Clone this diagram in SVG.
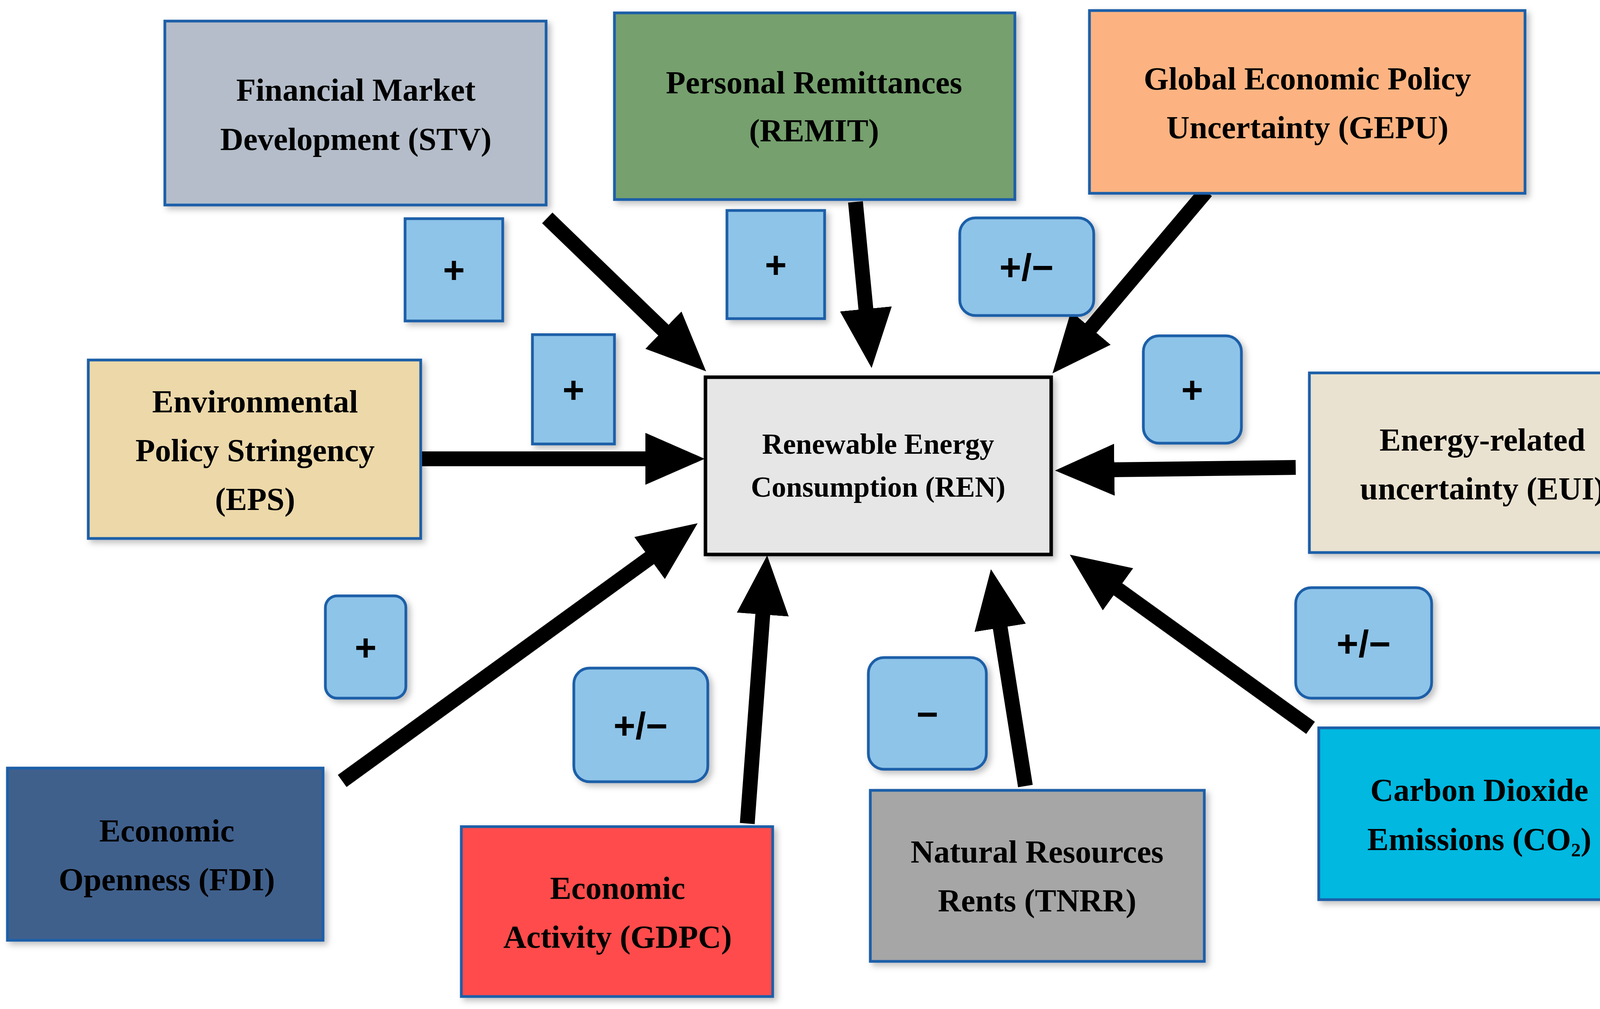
<svg xmlns="http://www.w3.org/2000/svg" width="4266" height="2584" viewBox="0 0 4266 2584">
<style>
.n{stroke:#1f5fa8;stroke-width:7}
.t{font-family:"Liberation Serif",serif;font-weight:bold;font-size:82px;text-anchor:middle;fill:#000}
.s{fill:#8ec4e8;stroke:#1f5fa8;stroke-width:7}
.st{font-family:"Liberation Sans",sans-serif;font-weight:bold;font-size:96px;text-anchor:middle;fill:#000}
.a{stroke:#000;stroke-width:38;fill:none;marker-end:url(#ah)}
</style>
<defs>
<marker id="ah" viewBox="0 0 4 3.5" markerWidth="4" markerHeight="3.5" refX="0.1" refY="1.75" orient="auto"><path d="M0,0 L4,1.75 L0,3.5z" fill="#000"/></marker>
<filter id="sh" x="-10%" y="-10%" width="130%" height="130%"><feDropShadow dx="8" dy="8" stdDeviation="8" flood-color="#000" flood-opacity="0.25"/></filter>
</defs>
<rect width="4266" height="2584" fill="#fff"/>
<g id="connectors">
<line class="a" x1="1401" y1="558" x2="1701" y2="848"/>
<line class="a" x1="2190" y1="517" x2="2217" y2="795"/>
<line class="a" x1="3088" y1="490" x2="2790" y2="843"/>
<line class="a" x1="1077" y1="1175" x2="1656" y2="1175"/>
<line class="a" x1="3317" y1="1197" x2="2849" y2="1203"/>
<line class="a" x1="876" y1="2000" x2="1666" y2="1427"/>
<line class="a" x1="1913" y1="2109" x2="1953" y2="1570"/>
<line class="a" x1="2625" y1="2013" x2="2560" y2="1604"/>
<line class="a" x1="3355" y1="1864" x2="2859" y2="1507"/>
</g>
<g id="REN" filter="url(#sh)"><rect x="1806" y="966" width="885" height="454" fill="#e6e6e6" stroke="#000" stroke-width="9"/>
<text class="t" font-size="74" x="2248" y="1162" style="font-size:74px">Renewable Energy</text><text class="t" x="2248" y="1272" style="font-size:74px">Consumption (REN)</text></g>
<g id="STV" filter="url(#sh)"><rect class="n" x="422" y="54" width="976" height="471" fill="#b4bdc9"/>
<text class="t" x="911" y="258">Financial Market</text><text class="t" x="911" y="384">Development (STV)</text></g>
<g id="REMIT" filter="url(#sh)"><rect class="n" x="1573" y="33" width="1025" height="478" fill="#76a06e"/>
<text class="t" x="2084" y="239">Personal Remittances</text><text class="t" x="2084" y="362">(REMIT)</text></g>
<g id="GEPU" filter="url(#sh)"><rect class="n" x="2789" y="27" width="1115" height="468" fill="#fdb381"/>
<text class="t" x="3347" y="229">Global Economic Policy</text><text class="t" x="3347" y="354">Uncertainty (GEPU)</text></g>
<g id="EPS" filter="url(#sh)"><rect class="n" x="226" y="922" width="851" height="457" fill="#ecd8a9"/>
<text class="t" x="653" y="1056">Environmental</text><text class="t" x="653" y="1181">Policy Stringency</text><text class="t" x="653" y="1306">(EPS)</text></g>
<g id="EUI" filter="url(#sh)"><rect class="n" x="3352" y="955" width="887" height="460" fill="#eae2d0"/>
<text class="t" x="3795" y="1154">Energy-related</text><text class="t" x="3795" y="1279">uncertainty (EUI)</text></g>
<g id="FDI" filter="url(#sh)"><rect class="n" x="19" y="1967" width="808" height="441" fill="#41608c"/>
<text class="t" x="427" y="2155">Economic</text><text class="t" x="427" y="2280">Openness (FDI)</text></g>
<g id="GDPC" filter="url(#sh)"><rect class="n" x="1181" y="2117" width="797" height="435" fill="#ff4b4b"/>
<text class="t" x="1581" y="2302">Economic</text><text class="t" x="1581" y="2427">Activity (GDPC)</text></g>
<g id="TNRR" filter="url(#sh)"><rect class="n" x="2228" y="2024" width="855" height="438" fill="#a6a6a6"/>
<text class="t" x="2655" y="2209">Natural Resources</text><text class="t" x="2655" y="2334">Rents (TNRR)</text></g>
<g id="CO2" filter="url(#sh)"><rect class="n" x="3376" y="1864" width="819" height="440" fill="#00b8e0"/>
<text class="t" x="3787" y="2051">Carbon Dioxide</text><text class="t" x="3787" y="2177">Emissions (CO₂)</text></g>
<g id="sign-STV" filter="url(#sh)"><rect class="s" x="1037" y="560" width="250" height="262"/><text class="st" x="1162" y="725">+</text></g>
<g id="sign-REMIT" filter="url(#sh)"><rect class="s" x="1861" y="539" width="250" height="277"/><text class="st" x="1986" y="712">+</text></g>
<g id="sign-GEPU" filter="url(#sh)"><rect class="s" x="2457" y="558" width="343" height="250" rx="40"/><text class="st" x="2628" y="718">+/−</text></g>
<g id="sign-EPS" filter="url(#sh)"><rect class="s" x="1363" y="857" width="210" height="280"/><text class="st" x="1468" y="1032">+</text></g>
<g id="sign-EUI" filter="url(#sh)"><rect class="s" x="2927" y="860" width="251" height="275" rx="40"/><text class="st" x="3052" y="1032">+</text></g>
<g id="sign-FDI" filter="url(#sh)"><rect class="s" x="833" y="1526" width="206" height="262" rx="30"/><text class="st" x="936" y="1692">+</text></g>
<g id="sign-GDPC" filter="url(#sh)"><rect class="s" x="1469" y="1711" width="343" height="291" rx="40"/><text class="st" x="1640" y="1892">+/−</text></g>
<g id="sign-TNRR" filter="url(#sh)"><rect class="s" x="2223" y="1684" width="302" height="286" rx="40"/><text class="st" x="2374" y="1862">−</text></g>
<g id="sign-CO2" filter="url(#sh)"><rect class="s" x="3317" y="1505" width="348" height="283" rx="40"/><text class="st" x="3491" y="1682">+/−</text></g>
</svg>
